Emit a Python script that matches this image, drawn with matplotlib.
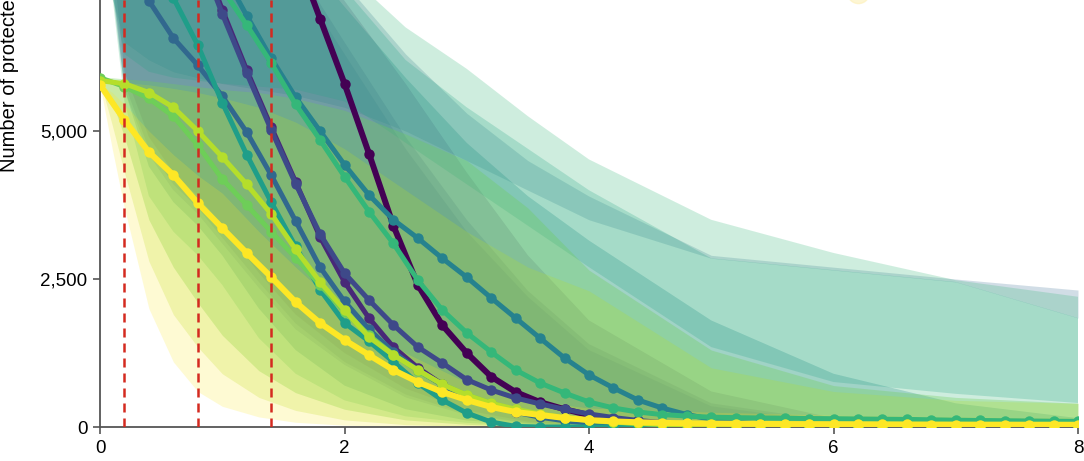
import numpy as np
import matplotlib
matplotlib.use("Agg")
import matplotlib.pyplot as plt

# ---------------- data ----------------
x = np.linspace(0, 8, 41)

purple = [10800, 10780, 10740, 10660, 10530, 10300, 9900, 9100, 8000, 6900, 5800, 4620, 3400, 2400,
          1720, 1250, 850, 590, 420, 300, 200, 130, 85, 55, 35, 22, 14, 9, 6, 4, 3, 2, 2, 1, 1, 1, 1,
          0, 0, 0, 0]
indigo = [9650, 9600, 9450, 9050, 8150, 7050, 6030, 5070, 4140, 3210, 2450, 1840, 1350, 1000, 720,
          520, 370, 260, 180, 120, 80, 52, 34, 22, 14, 9, 6, 4, 3, 2, 1, 1, 1, 1, 0, 0, 0, 0, 0, 0, 0]
blueviolet = [9500, 9440, 9280, 8900, 8050, 6980, 5980, 5020, 4110, 3260, 2600, 2145, 1723, 1351,
              1081, 800, 625, 490, 390, 300, 220, 160, 110, 75, 50, 32, 20, 13, 8, 5, 3, 2, 1, 1,
              0, 0, 0, 0, 0, 0, 0]
blue = [7900, 7600, 7200, 6570, 6110, 5590, 4980, 4256, 3480, 2700, 2120, 1650, 1270, 960, 710, 510,
        360, 250, 165, 105, 65, 40, 24, 14, 8, 5, 3, 2, 1, 1, 0, 0, 0, 0, 0, 0, 0, 0, 0, 0, 0]
tealblue = [9000, 8950, 8850, 8650, 8300, 7700, 6950, 6230, 5570, 5000, 4430, 3920, 3500, 3190, 2850,
            2530, 2180, 1840, 1500, 1165, 880, 660, 456, 320, 210, 130, 80, 50, 30, 18, 10, 6, 4, 2,
            1, 1, 0, 0, 0, 0, 0]
teal = [8200, 8100, 7800, 7250, 6450, 5480, 4600, 3800, 3050, 2320, 1760, 1450, 1100, 740, 456, 236,
        84, 10, 0, 0, 0, 0, 0, 0, 0, 0, 0, 0, 0, 0, 0, 0, 0, 0, 0, 0, 0, 0, 0, 0, 0]
greenteal = [8600, 8550, 8450, 8250, 7900, 7400, 6790, 6150, 5450, 4850, 4230, 3640, 3100, 2480, 1976,
             1590, 1267, 963, 743, 574, 422, 321, 253, 210, 185, 165, 158, 152, 148, 143, 140, 136,
             132, 128, 122, 115, 110, 106, 102, 98, 95]
green = [5900, 5750, 5550, 5250, 4760, 4190, 3750, 3300, 2860, 2400, 1950, 1550, 1220, 950, 720, 540,
         400, 290, 210, 150, 110, 80, 60, 45, 35, 28, 22, 18, 15, 12, 10, 8, 7, 6, 5, 4, 3, 3, 2, 2, 2]
lime = [5850, 5800, 5650, 5400, 5000, 4560, 4100, 3600, 3000, 2450, 1976, 1520, 1216, 963, 720, 540,
        400, 300, 220, 160, 115, 85, 62, 46, 35, 27, 21, 17, 14, 12, 10, 9, 8, 7, 6, 5, 5, 4, 4, 3, 3]
yellow = [5780, 5185, 4645, 4256, 3783, 3360, 2940, 2534, 2111, 1757, 1470, 1216, 963, 760, 591, 456,
          338, 253, 203, 152, 118, 95, 80, 70, 63, 58, 55, 52, 50, 48, 46, 45, 44, 43, 42, 41, 40, 40,
          39, 39, 38]

series = [purple, indigo, blueviolet, blue, tealblue, teal, greenteal, green, lime, yellow]
colors = ['#440154', '#482878', '#3e4989', '#31688e', '#26828e', '#1f9e89', '#35b779', '#6ece58',
          '#b5de2b', '#fde725']

# uncertainty bands (on a coarser grid)
bx = [0, 0.1, 0.2, 0.4, 0.6, 0.8, 1.0, 1.3, 1.6, 2.0, 2.5, 3.0, 3.5, 4.0, 5.0, 6.0, 7.0, 8.0]
band_upper = [
    [10800, 10900, 10900, 10800, 10600, 10300, 9900, 9100, 8300, 7200, 5800, 4300, 2900, 1800, 600, 150, 30, 0],
    [9650, 9750, 9800, 9800, 9700, 9500, 9200, 8600, 7800, 6500, 4900, 3500, 2300, 1400, 400, 100, 20, 0],
    [9500, 9600, 9650, 9650, 9550, 9350, 9000, 8400, 7600, 6300, 4700, 3300, 2200, 1300, 350, 80, 15, 0],
    [7900, 8300, 8600, 9000, 9200, 9300, 9250, 9000, 8600, 7500, 6300, 5300, 4500, 3900, 2900, 2700, 2500, 2314],
    [9000, 9200, 9300, 9400, 9400, 9300, 9100, 8700, 8100, 7100, 5900, 4800, 3900, 3150, 1800, 900, 400, 150],
    [8200, 8500, 8800, 9200, 9400, 9400, 9300, 9000, 8500, 7400, 6200, 5400, 4700, 4000, 2850, 2650, 2450, 1841],
    [8600, 8900, 9200, 9600, 9800, 9800, 9700, 9300, 8700, 7700, 6750, 6050, 5250, 4520, 3500, 2940, 2480, 2200],
    [5900, 5900, 5880, 5850, 5800, 5750, 5700, 5650, 5550, 5350, 4950, 4500, 3700, 2650, 1300, 700, 500, 400],
    [5850, 5850, 5820, 5780, 5720, 5650, 5560, 5400, 5150, 4700, 4000, 3300, 2700, 2300, 1000, 600, 450, 400],
    [5780, 5650, 5450, 5000, 4600, 4250, 3950, 3300, 2700, 1950, 1250, 750, 450, 320, 250, 200, 170, 150],
]
band_lower = [
    [10800, 8000, 6000, 4900, 4300, 3900, 3400, 2600, 1900, 1250, 650, 280, 90, 25, 0, 0, 0, 0],
    [9650, 7600, 5800, 4700, 4100, 3700, 3200, 2450, 1750, 1100, 550, 220, 70, 15, 0, 0, 0, 0],
    [9500, 7500, 5700, 4600, 4000, 3600, 3100, 2350, 1650, 1050, 500, 200, 60, 10, 0, 0, 0, 0],
    [7900, 7250, 6500, 6200, 6000, 5900, 5800, 5700, 5600, 5400, 5000, 4500, 4000, 3500, 2850, 2650, 2450, 1841],
    [9000, 7400, 5700, 4400, 3800, 3400, 2900, 2000, 1300, 700, 300, 110, 40, 10, 0, 0, 0, 0],
    [8200, 7300, 6300, 6000, 5900, 5850, 5800, 5750, 5700, 5500, 4800, 4100, 3400, 2700, 1350, 760, 560, 405],
    [8600, 7300, 5500, 3900, 3300, 2900, 2400, 1500, 900, 450, 180, 70, 20, 5, 0, 0, 0, 0],
    [5900, 5500, 4900, 3500, 2700, 2100, 1550, 950, 580, 300, 120, 45, 12, 0, 0, 0, 0, 0],
    [5850, 5100, 4300, 2800, 1900, 1350, 900, 500, 280, 120, 40, 10, 0, 0, 0, 0, 0, 0],
    [5780, 4700, 3700, 2000, 1100, 600, 350, 170, 80, 30, 10, 0, 0, 0, 0, 0, 0, 0],
]
band_alpha = [0.18, 0.18, 0.18, 0.22, 0.28, 0.24, 0.24, 0.32, 0.24, 0.2]

cutoffs = [0.2, 0.8, 1.4]
xticks = [0, 2, 4, 6, 8]
yticks = [0, 2500, 5000]
ytick_labels = ['0', '2,500', '5,000']
ylabel = 'Number of protected species'
legend_marker = ([6.2], [7350])

# ---------------- figure ----------------
plt.rcParams['font.family'] = ['Liberation Sans', 'DejaVu Sans']
fig = plt.figure(figsize=(10.84, 4.61), dpi=100)
ax = fig.add_axes([100 / 1084, 34 / 461, 978 / 1084, 427 / 461])

for lo, hi, c, a in zip(band_lower, band_upper, colors, band_alpha):
    ax.fill_between(bx, lo, hi, color=c, alpha=a, linewidth=0, zorder=1)

for y, c in zip(series, colors):
    lw = 4.3 if c in ('#440154', '#fde725') else 3.6
    ax.plot(x, y, color=c, lw=lw, marker='o', ms=7.5, mec=c, mew=0, zorder=3,
            solid_capstyle='round')

for cx in cutoffs:
    ax.axvline(cx, color='#d42a20', lw=1.8, dashes=(3.6, 2.4), zorder=5)

ax.plot(legend_marker[0], legend_marker[1], 'o', ms=16, color='#fdf0b8', alpha=0.6,
        clip_on=False, zorder=6)

ax.set_xlim(0, 8)
ax.set_ylim(0, 7213)
ax.set_xticks(xticks)
ax.set_xticklabels([str(v) for v in xticks])
ax.set_yticks(yticks)
ax.set_yticklabels(ytick_labels)
ax.tick_params(labelsize=13.5, length=5, width=1.2, color='#555555', pad=4)
for s in ['top', 'right']:
    ax.spines[s].set_visible(False)
for s in ['left', 'bottom']:
    ax.spines[s].set_color('#555555')
    ax.spines[s].set_linewidth(1.3)

fig.text(10 / 1084, (461 - 172) / 461, ylabel, rotation=90, ha='center', va='bottom',
         fontsize=14.5)

fig.savefig('out.png', dpi=100)
